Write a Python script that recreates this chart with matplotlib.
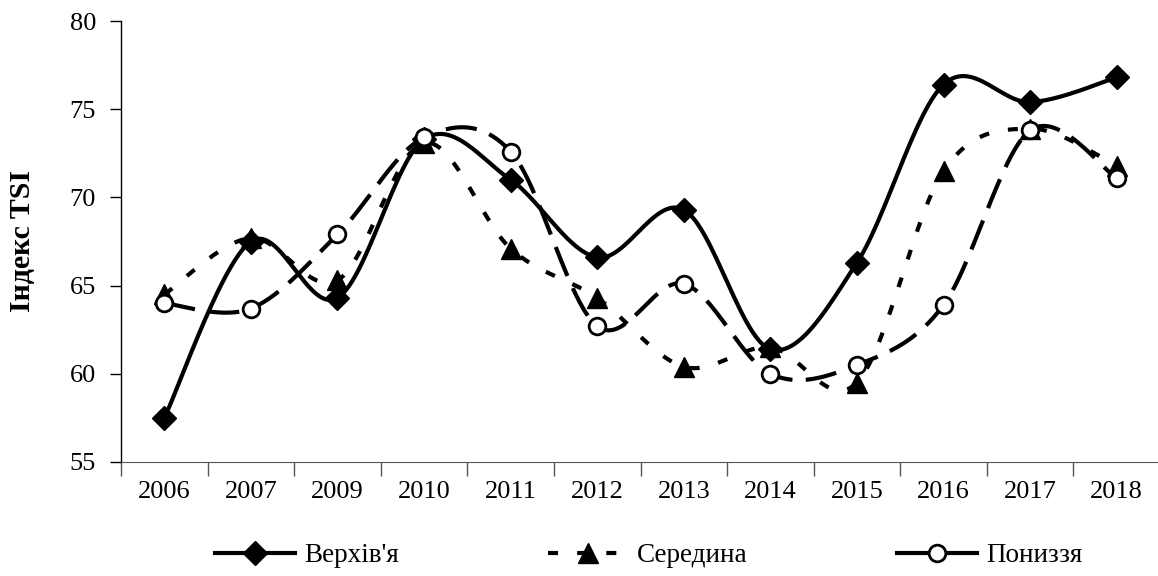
import numpy as np
import matplotlib
matplotlib.use("Agg")
import matplotlib.pyplot as plt
from matplotlib.lines import Line2D

years = ["2006", "2007", "2009", "2010", "2011", "2012", "2013", "2014", "2015", "2016", "2017", "2018"]
upper = [57.5, 67.5, 64.3, 73.3, 71.0, 66.6, 69.3, 61.4, 66.3, 76.4, 75.4, 76.8]
middle = [64.5, 67.7, 65.3, 73.1, 67.1, 64.3, 60.4, 61.5, 59.5, 71.5, 73.9, 71.8]
lower = [64.0, 63.7, 67.9, 73.4, 72.6, 62.7, 65.1, 60.0, 60.5, 63.9, 73.8, 71.1]
yticks = [55, 60, 65, 70, 75, 80]
names = ["Верхів'я", "Середина", "Пониззя"]

plt.rcParams['font.family'] = ['Liberation Serif', 'DejaVu Serif']


def smooth(y, n=30):
    """Excel-style smoothed line (Catmull-Rom Bezier) through the points."""
    y = np.asarray(y, float)
    x = np.arange(len(y), dtype=float)
    P = np.column_stack([x, y])
    Pe = np.vstack([P[0], P, P[-1]])
    out = []
    t = np.linspace(0, 1, n)[:, None]
    for i in range(len(P) - 1):
        p0, p1, p2, p3 = Pe[i], Pe[i + 1], Pe[i + 2], Pe[i + 3]
        c1 = p1 + (p2 - p0) / 6.0
        c2 = p2 - (p3 - p1) / 6.0
        seg = ((1 - t) ** 3) * p1 + 3 * ((1 - t) ** 2) * t * c1 + 3 * (1 - t) * t ** 2 * c2 + t ** 3 * p2
        out.append(seg if i == 0 else seg[1:])
    s = np.vstack(out)
    return s[:, 0], s[:, 1]


fig = plt.figure(figsize=(11.58, 5.76), dpi=100)
ax = fig.add_axes([121 / 1158, 114 / 576, 1039 / 1158, 441 / 576])

x = np.arange(len(years))
lw = 3.0
mid_dash = (2.4, 4.6)
low_dash = (7.5, 3.2)

# Верхів'я
sx, sy = smooth(upper)
ax.plot(sx, sy, color='black', lw=lw, solid_capstyle='butt', zorder=3)
ax.plot(x, upper, ls='none', marker='D', ms=12, color='black', zorder=4)

# Середина
sx, sy = smooth(middle)
ax.plot(sx, sy, color='black', lw=lw, dashes=mid_dash, dash_capstyle='butt', zorder=5)
ax.plot(x, middle, ls='none', marker='^', ms=14, color='black', zorder=6)

# Пониззя
sx, sy = smooth(lower)
ax.plot(sx, sy, color='black', lw=lw, dashes=low_dash, dash_capstyle='butt', zorder=7)
ax.plot(x, lower, ls='none', marker='o', ms=12, mfc='white', mec='black', mew=2.0, zorder=8)

ax.set_xlim(-0.5, len(years) - 0.5)
ax.set_ylim(55, 80)
ax.set_yticks(yticks)
ax.set_yticklabels([str(v) for v in yticks])
ax.tick_params(axis='y', direction='out', length=8, width=1, pad=10, labelsize=19)

ax.set_xticks(np.arange(len(years) + 1) - 0.5)
ax.set_xticklabels([])
ax.tick_params(axis='x', which='major', direction='out', length=10, width=1, color='#555555')
ax.set_xticks(x, minor=True)
ax.set_xticklabels(years, minor=True)
ax.tick_params(axis='x', which='minor', length=0, pad=14, labelsize=19)

for s in ['top', 'right']:
    ax.spines[s].set_visible(False)
ax.spines['bottom'].set_color('#555555')
ax.spines['left'].set_linewidth(1)

ax.set_ylabel('Індекс TSI', fontsize=21.5, fontweight='bold', labelpad=24)

h1 = Line2D([], [], color='black', lw=lw, marker='D', ms=12)
h2 = Line2D([], [], color='black', lw=lw, dashes=mid_dash, dash_capstyle='butt', marker='^', ms=14)
h3 = Line2D([], [], color='black', lw=lw, marker='o', ms=12, mfc='white', mec='black', mew=2.0)

legkw = dict(frameon=False, fontsize=19.5, handlelength=2.95, handletextpad=0.35,
             borderpad=0, borderaxespad=0, loc='center left')
ly = 1 - 556 / 576
fig.legend([h1], [names[0]], bbox_to_anchor=(215 / 1158, ly), **legkw)
fig.legend([h2], [names[1]], bbox_to_anchor=(548 / 1158, ly), **legkw)
fig.legend([h3], [names[2]], bbox_to_anchor=(897 / 1158, ly), **legkw)

fig.savefig('out.png', dpi=100)
